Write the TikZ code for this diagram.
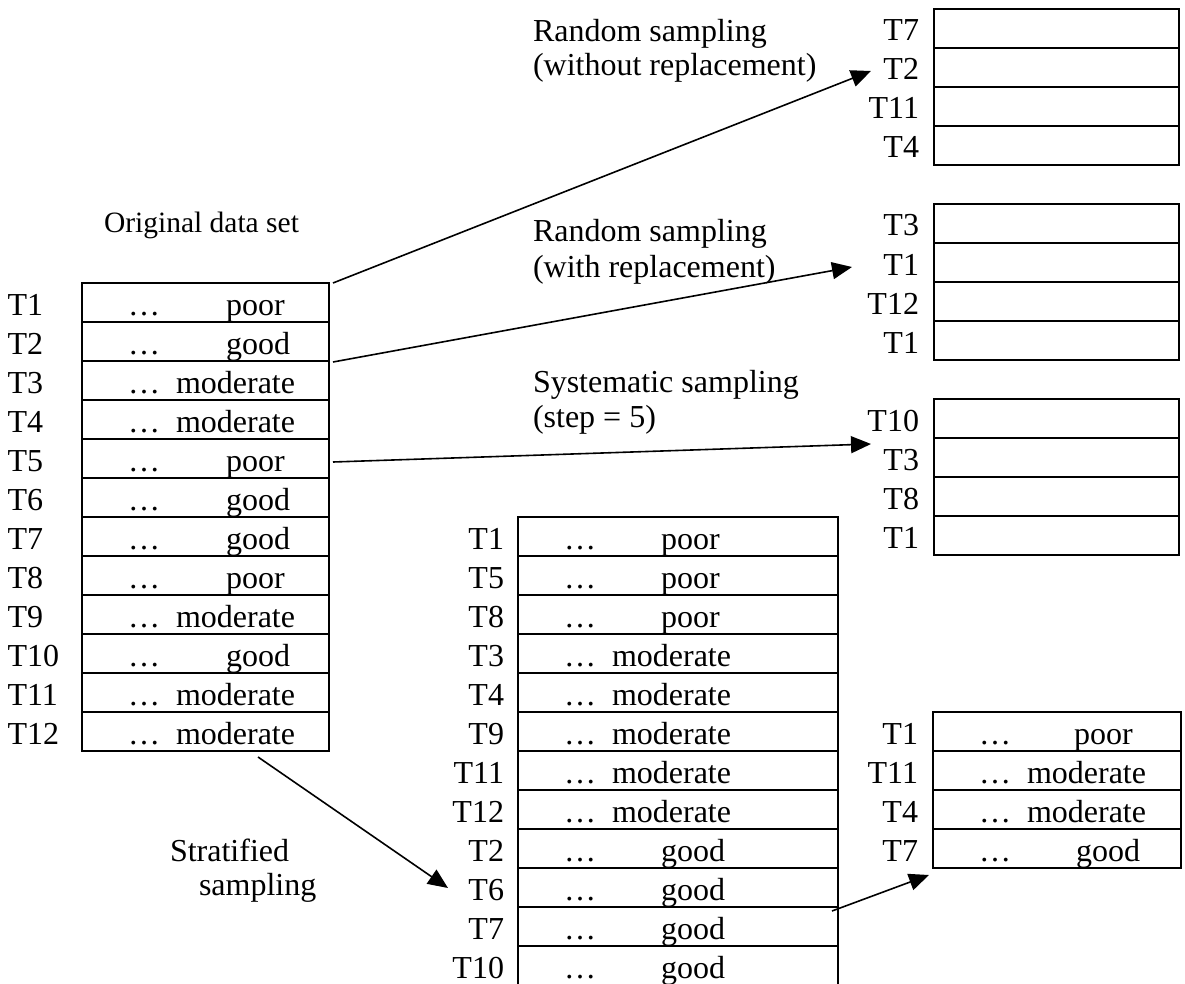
\documentclass[tikz,border=0pt]{standalone}
\usepackage{fontspec}
\setmainfont{Liberation Serif}
\usetikzlibrary{arrows.meta}
\begin{document}
\begin{tikzpicture}[x=1pt,y=-1pt,
  cell/.style={draw, line width=1.8pt, rectangle, inner sep=0pt, outer sep=0pt,
               anchor=north west, minimum height=39pt},
  txt/.style={inner sep=0pt, outer sep=0pt, font=\fontsize{32}{38}\selectfont},
  caption/.style={txt, anchor=base west},
  link/.style={line width=1.6pt, -{Triangle[length=20pt,width=17pt]}},
]
\useasboundingbox (0,0) rectangle (1185,984);

% ---------- original data set ----------
\node[txt, anchor=base west, font=\fontsize{29.5}{36}\selectfont] (origcap) at (104,233) {Original data set};
\foreach \lab/\val/\off [count=\i] in {T1/poor/144,T2/good/144,T3/moderate/94,T4/moderate/94,
    T5/poor/144,T6/good/144,T7/good/144,T8/poor/144,T9/moderate/94,T10/good/144,
    T11/moderate/94,T12/moderate/94}{
  \pgfmathsetmacro\top{283+39*(\i-1)}
  \node[cell, minimum width=247pt] (o\i) at (82,\top) {};
  \node[txt, anchor=base west] (ol\i) at (7.5,\top+32) {\lab};
  \node[txt, anchor=base west] (oe\i) at (82+46,\top+32) {…};
  \node[txt, anchor=base west] (ov\i) at (82+\off,\top+32) {\val};
}

% ---------- stratified sample ----------
\foreach \lab/\val/\off [count=\i] in {T1/poor/143,T5/poor/143,T8/poor/143,T3/moderate/94,
    T4/moderate/94,T9/moderate/94,T11/moderate/94,T12/moderate/94,T2/good/143,
    T6/good/143,T7/good/143,T10/good/143}{
  \pgfmathsetmacro\top{517+39*(\i-1)}
  \node[cell, minimum width=320pt] (s\i) at (518,\top) {};
  \node[txt, anchor=base east] (sl\i) at (504,\top+32) {\lab};
  \node[txt, anchor=base west] (se\i) at (518+46,\top+32) {…};
  \node[txt, anchor=base west] (sv\i) at (518+\off,\top+32) {\val};
}

% ---------- sample drawn from the strata ----------
\foreach \lab/\val/\off [count=\i] in {T1/poor/141,T11/moderate/94,T4/moderate/94,T7/good/143}{
  \pgfmathsetmacro\top{712+39*(\i-1)}
  \node[cell, minimum width=248pt] (f\i) at (933,\top) {};
  \node[txt, anchor=base east] (fl\i) at (918,\top+32) {\lab};
  \node[txt, anchor=base west] (fe\i) at (933+46,\top+32) {…};
  \node[txt, anchor=base west] (fv\i) at (933+\off,\top+32) {\val};
}

% ---------- the three simple samples ----------
\foreach \lab [count=\i] in {T7,T2,T11,T4}{
  \pgfmathsetmacro\top{9+39*(\i-1)}
  \node[cell, minimum width=245pt] (a\i) at (934,\top) {};
  \node[txt, anchor=base east] (al\i) at (919,\top+32) {\lab};
}
\foreach \lab [count=\i] in {T3,T1,T12,T1}{
  \pgfmathsetmacro\top{204+39*(\i-1)}
  \node[cell, minimum width=245pt] (b\i) at (934,\top) {};
  \node[txt, anchor=base east] (bl\i) at (919,\top+32) {\lab};
}
\foreach \lab [count=\i] in {T10,T3,T8,T1}{
  \pgfmathsetmacro\top{399+39*(\i-1)}
  \node[cell, minimum width=245pt] (c\i) at (934,\top) {};
  \node[txt, anchor=base east] (cl\i) at (919,\top+32) {\lab};
}

% ---------- method captions ----------
\node[caption] (rw1) at (533,42)  {Random sampling};
\node[caption] (rw2) at (533,76)  {(without replacement)};
\node[caption] (rr1) at (533,242) {Random sampling};
\node[caption] (rr2) at (533,277) {(with replacement)};
\node[caption] (sy1) at (533,392) {Systematic sampling};
\node[caption] (sy2) at (533,427) {(step = 5)};
\node[caption] (st1) at (170,861) {Stratified};
\node[caption] (st2) at (199,895) {sampling};

% ---------- arrow end points ----------
\coordinate (p1) at (333,283);  \coordinate (q1) at (871,71);
\coordinate (p2) at (333,362);  \coordinate (q2) at (852,267);
\coordinate (p3) at (333,462);  \coordinate (q3) at (871,444);
\coordinate (p4) at (258,757);  \coordinate (q4) at (448,888);
\coordinate (p5) at (832,911);  \coordinate (q5) at (929,875);

\draw[link] (p1) -- (q1);
\draw[link] (p2) -- (q2);
\draw[link] (p3) -- (q3);
\draw[link] (p4) -- (q4);
\draw[link] (p5) -- (q5);
\end{tikzpicture}
\end{document}
